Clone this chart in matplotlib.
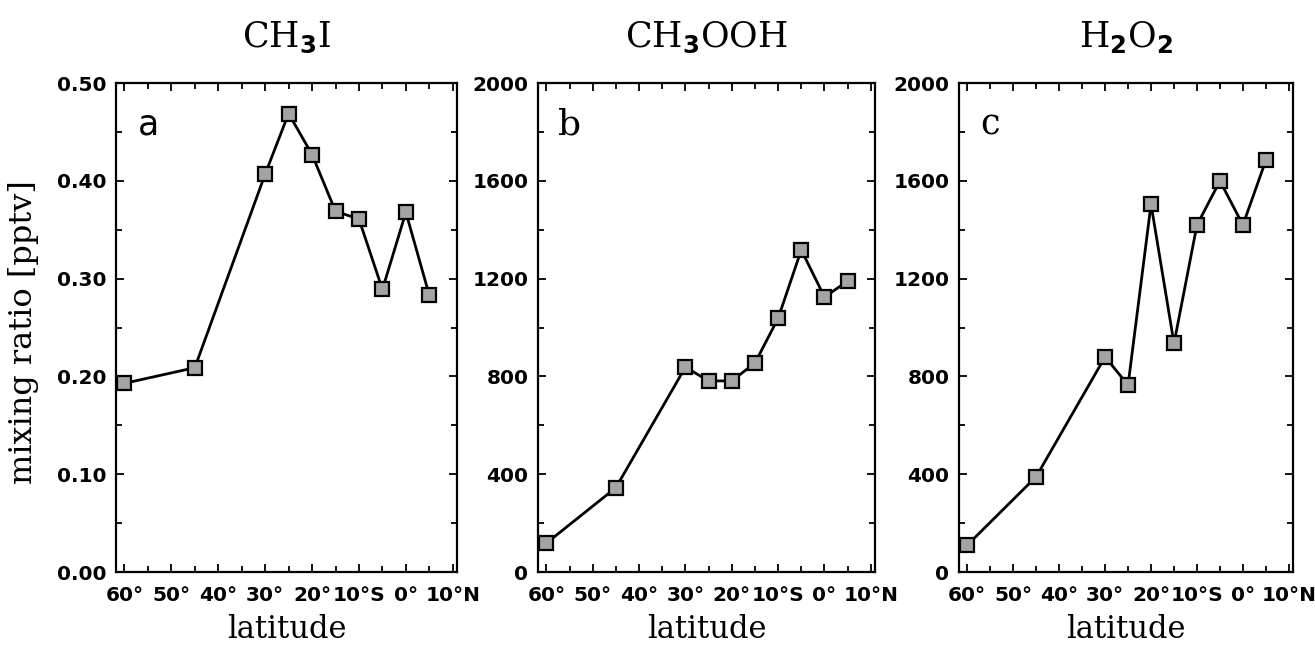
"""Latitudinal profiles of CH3I, CH3OOH and H2O2 mixing ratios (3 panels)."""

import matplotlib
matplotlib.use("Agg")
import matplotlib.pyplot as plt
from matplotlib.ticker import MultipleLocator, FixedLocator

plt.rcParams["mathtext.fontset"] = "custom"
plt.rcParams["mathtext.rm"] = "DejaVu Serif"
plt.rcParams["mathtext.bf"] = "DejaVu Sans:bold"

# ── data ──────────────────────────────────────────────────────────────────
latitude = [-60, -45, -30, -25, -20, -15, -10, -5, 0, 5]
ch3i = [0.193, 0.209, 0.407, 0.469, 0.427, 0.369, 0.361, 0.289, 0.368, 0.283]
ch3ooh = [118, 345, 838, 782, 782, 855, 1038, 1318, 1125, 1190]
h2o2 = [110, 390, 880, 765, 1505, 935, 1420, 1600, 1420, 1685]

titles = [r"CH$_\mathbf{3}$I", r"CH$_\mathbf{3}$OOH", r"H$_\mathbf{2}$O$_\mathbf{2}$"]
panel_letters = ["a", "b", "c"]
x_ticks = [-60, -50, -40, -30, -20, -10, 0, 10]
x_ticklabels = ["60°", "50°", "40°", "30°", "20°", "10°S", "0°", "10°N"]
a_ticks = [0.0, 0.1, 0.2, 0.3, 0.4, 0.5]
a_ticklabels = ["0.00", "0.10", "0.20", "0.30", "0.40", "0.50"]
bc_ticks = [0, 400, 800, 1200, 1600, 2000]
bc_ticklabels = ["0", "400", "800", "1200", "1600", "2000"]

SERIF = "DejaVu Serif"
TICKFONT = dict(family="DejaVu Sans", weight="bold", size=14.5)

fig = plt.figure(figsize=(13.15, 6.5), dpi=100)
# axes boxes in figure fraction (measured from the 1315x650 reference)
boxes = [
    (116 / 1315, 0.12, 341 / 1315, 0.752),
    (538 / 1315, 0.12, 337 / 1315, 0.752),
    (959 / 1315, 0.12, 334 / 1315, 0.752),
]
series = [ch3i, ch3ooh, h2o2]
letter_fonts = [("DejaVu Sans", 25), (SERIF, 26), (SERIF, 25)]

for i, (box, vals) in enumerate(zip(boxes, series)):
    ax = fig.add_axes(box)
    ax.plot(
        latitude, vals, color="black", linewidth=2.0,
        marker="s", markersize=10.5, markerfacecolor="#a4a4a4",
        markeredgecolor="black", markeredgewidth=1.6, zorder=3,
    )
    ax.set_xlim(-61.8, 10.9)
    if i == 0:
        ax.set_ylim(0, 0.5)
        ax.yaxis.set_major_locator(FixedLocator(a_ticks))
        ax.set_yticklabels(a_ticklabels, **TICKFONT)
        ax.yaxis.set_minor_locator(MultipleLocator(0.05))
        ax.set_ylabel("mixing ratio [pptv]", family=SERIF, fontsize=23)
        ax.yaxis.set_label_coords(-0.27, 0.49)
        ax.yaxis.label.set_va("center")
    else:
        ax.set_ylim(0, 2000)
        ax.yaxis.set_major_locator(FixedLocator(bc_ticks))
        ax.set_yticklabels(bc_ticklabels, **TICKFONT)
        ax.yaxis.set_minor_locator(MultipleLocator(200))
    ax.xaxis.set_major_locator(FixedLocator(x_ticks))
    ax.set_xticklabels(x_ticklabels, **TICKFONT)
    ax.xaxis.set_minor_locator(MultipleLocator(5))

    ax.tick_params(which="both", direction="in", top=True, right=True, width=1.3)
    ax.tick_params(which="major", length=6)
    ax.tick_params(which="minor", length=4.5)
    ax.tick_params(axis="y", pad=7)
    ax.tick_params(axis="x", pad=10)
    for sp in ax.spines.values():
        sp.set_linewidth(1.6)

    ax.set_xlabel("latitude", family=SERIF, fontsize=22)
    ax.xaxis.set_label_coords(0.5, -0.135)
    ax.xaxis.label.set_va("baseline")
    ax.text(0.5, 1.0736, titles[i], transform=ax.transAxes, ha="center",
            va="baseline", family=SERIF, fontsize=25)
    fam, size = letter_fonts[i]
    ax.text(0.094, 0.896, panel_letters[i], transform=ax.transAxes,
            ha="center", va="baseline", family=fam, fontsize=size)

fig.savefig("out.png", dpi=100)
